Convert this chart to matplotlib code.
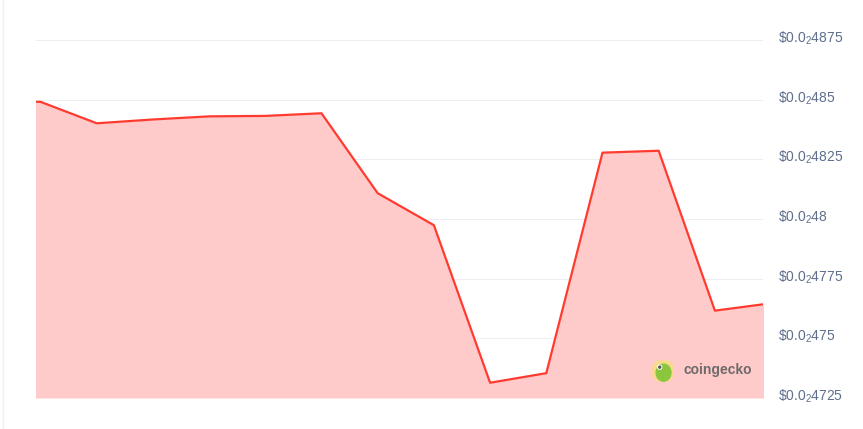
import matplotlib.pyplot as plt
import matplotlib.transforms as mtransforms
from matplotlib.patches import Circle, Ellipse

plt.rcParams['font.family'] = ['Liberation Sans', 'DejaVu Sans']
plt.rcParams['mathtext.fontset'] = 'custom'
plt.rcParams['mathtext.rm'] = 'Liberation Sans'
plt.rcParams['mathtext.it'] = 'Liberation Sans'
plt.rcParams['mathtext.default'] = 'rm'

# price points, evenly spaced in time (first and last run past the plot edges)
prices = [0.0048491, 0.0048491, 0.0048401, 0.0048417, 0.0048430, 0.0048432,
          0.0048443, 0.0048108, 0.0047974, 0.0047314, 0.0047354, 0.0048278,
          0.0048286, 0.0047616, 0.0047647]
x = list(range(-1, len(prices) - 1))

tick_vals = [0.004725, 0.00475, 0.004775, 0.0048, 0.004825, 0.00485, 0.004875]
tick_tails = ["4725", "475", "4775", "48", "4825", "485", "4875"]

fig = plt.figure(figsize=(8.63, 4.29), dpi=100)
ax = fig.add_axes([36/863, 1 - 398/429, (763 - 36)/863, (398 - 40)/429])

ymin, ymax = 0.004725, 0.004875
ax.fill_between(x, prices, ymin, color="#ffcaca", lw=0, zorder=2)
ax.plot(x, prices, color="#ff3b30", lw=1.6, zorder=3)

ax.set_xlim(-0.08, 12.856)
ax.set_ylim(ymin, ymax)
ax.set_yticks(tick_vals)
ax.set_yticklabels([r"\$0.0$_{2}$" + t for t in tick_tails])
ax.yaxis.tick_right()
ax.tick_params(axis="y", length=0, pad=11, labelsize=10, labelcolor="#5e6e8c")
ax.set_xticks([])
ax.grid(axis="y", color="#eceef2", lw=0.8, zorder=1)
for s in ax.spines.values():
    s.set_visible(False)
shift = mtransforms.ScaledTranslation(0, 4/100, fig.dpi_scale_trans)
for lab in ax.get_yticklabels():
    lab.set_transform(lab.get_transform() + shift)

# faint left page border
fig.add_artist(plt.Line2D([2.5/863, 2.5/863], [0, 1], color="#eef0f3", lw=1))

# coingecko watermark
lax = fig.add_axes([652/863, 1 - 382/429, 22/863, 22/429])
lax.set_xlim(-1, 1)
lax.set_ylim(-1, 1)
lax.set_aspect("equal")
lax.axis("off")
lax.add_patch(Circle((0, 0), 1.0, color="#f8da8f"))
lax.add_patch(Ellipse((0.05, -0.15), 1.35, 1.55, color="#8cc63f"))
lax.add_patch(Circle((-0.3, 0.35), 0.18, color="#ffffff"))
lax.add_patch(Circle((-0.3, 0.35), 0.09, color="#555555"))
fig.text(683/863, 1 - 370/429, "coingecko", fontsize=10, fontweight="bold",
         color="#6f6a6a", va="center", ha="left")

fig.savefig("out.png", dpi=100)
